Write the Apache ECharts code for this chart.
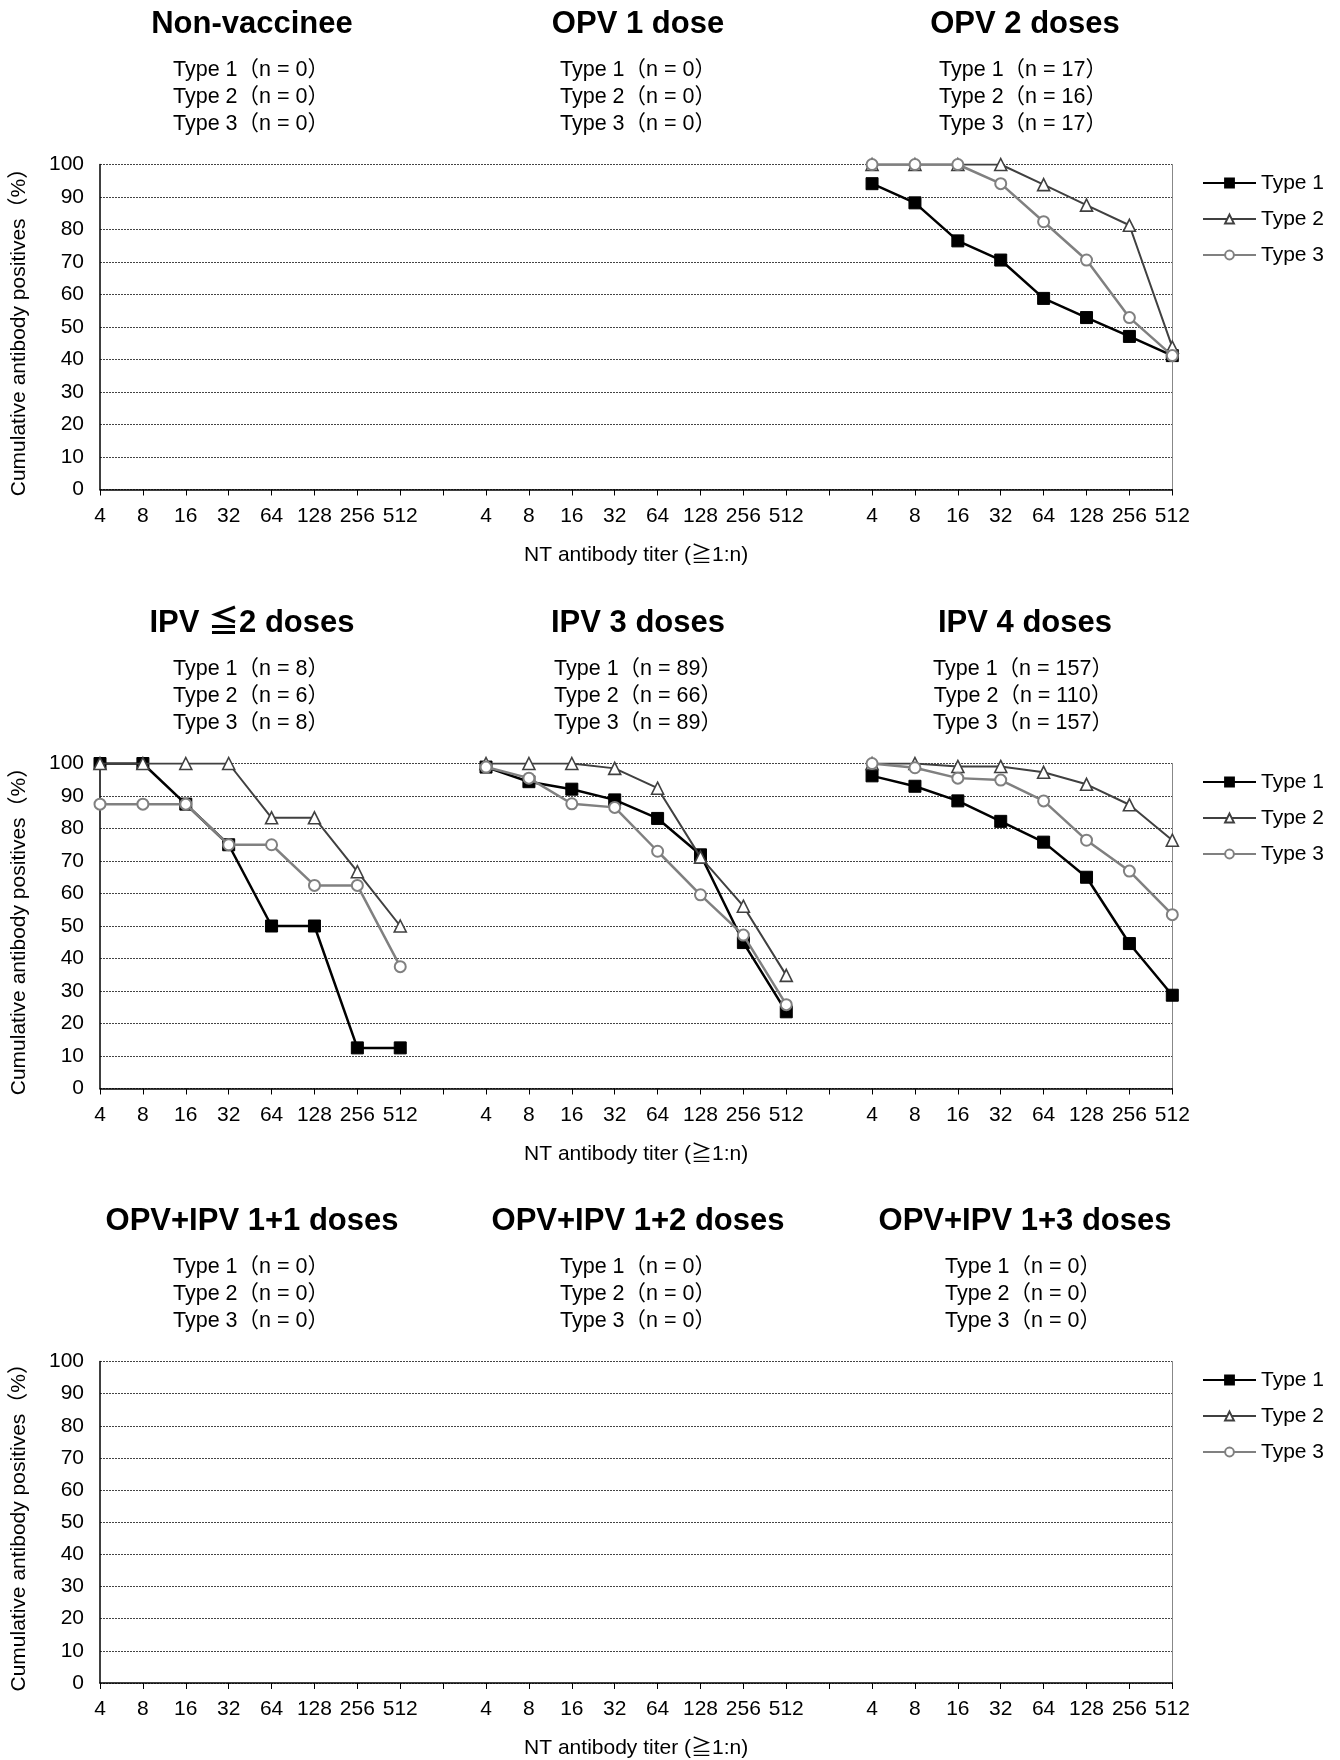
<!DOCTYPE html>
<html>
<head>
<meta charset="utf-8">
<script src="https://cdn.jsdelivr.net/npm/echarts@6/dist/echarts.min.js"></script>
<style>
html,body{margin:0;padding:0;background:#fff;}
#chart{width:1340px;height:1760px;}
</style>
</head>
<body>
<div id="chart"></div>
<script>
// ---------------- DATA ----------------
const titers = ['4', '8', '16', '32', '64', '128', '256', '512'];
const typeNames = ['Type 1', 'Type 2', 'Type 3'];

const row1Titles = ['Non-vaccinee', 'OPV 1 dose', 'OPV 2 doses'];
const row2Titles = ['IPV ≦2 doses', 'IPV 3 doses', 'IPV 4 doses'];
const row3Titles = ['OPV+IPV 1+1 doses', 'OPV+IPV 1+2 doses', 'OPV+IPV 1+3 doses'];

// sample sizes (Type 1, Type 2, Type 3)
const nNonVaccinee = [0, 0, 0];
const nOpv1 = [0, 0, 0];
const nOpv2 = [17, 16, 17];
const nIpvLe2 = [8, 6, 8];
const nIpv3 = [89, 66, 89];
const nIpv4 = [157, 110, 157];
const nCombo11 = [0, 0, 0];
const nCombo12 = [0, 0, 0];
const nCombo13 = [0, 0, 0];

// cumulative antibody positives (%) at titer >= 1:n
const noData = [null, null, null, null, null, null, null, null];

const opv2Type1 = [94.1, 88.2, 76.5, 70.6, 58.8, 52.9, 47.1, 41.2];
const opv2Type2 = [100, 100, 100, 100, 93.8, 87.5, 81.3, 43.8];
const opv2Type3 = [100, 100, 100, 94.1, 82.4, 70.6, 52.9, 41.2];

const ipvLe2Type1 = [100, 100, 87.5, 75, 50, 50, 12.5, 12.5];
const ipvLe2Type2 = [100, 100, 100, 100, 83.3, 83.3, 66.7, 50];
const ipvLe2Type3 = [87.5, 87.5, 87.5, 75, 75, 62.5, 62.5, 37.5];

const ipv3Type1 = [98.9, 94.4, 92.1, 88.8, 83.1, 71.9, 44.9, 23.6];
const ipv3Type2 = [100, 100, 100, 98.5, 92.4, 71.2, 56.1, 34.8];
const ipv3Type3 = [98.9, 95.5, 87.6, 86.5, 73.0, 59.6, 47.2, 25.8];

const ipv4Type1 = [96.2, 93.0, 88.5, 82.2, 75.8, 65.0, 44.6, 28.7];
const ipv4Type2 = [100, 100, 99.1, 99.1, 97.3, 93.6, 87.3, 76.4];
const ipv4Type3 = [100, 98.7, 95.5, 94.9, 88.5, 76.4, 66.9, 53.5];

// ---------------- BUILD ----------------
const rows = [
  { titles: row1Titles, counts: [nNonVaccinee, nOpv1, nOpv2],
    panels: [[noData, noData, noData], [noData, noData, noData], [opv2Type1, opv2Type2, opv2Type3]] },
  { titles: row2Titles, counts: [nIpvLe2, nIpv3, nIpv4],
    panels: [[ipvLe2Type1, ipvLe2Type2, ipvLe2Type3], [ipv3Type1, ipv3Type2, ipv3Type3], [ipv4Type1, ipv4Type2, ipv4Type3]] },
  { titles: row3Titles, counts: [nCombo11, nCombo12, nCombo13],
    panels: [[noData, noData, noData], [noData, noData, noData], [noData, noData, noData]] }
];

// x categories: three panels separated by a blank slot
const categories = [].concat(titers, [''], titers, [''], titers);

function joinPanels(a, b, c) {
  return [].concat(a, [null], b, [null], c);
}

const FONT = "'Liberation Sans', Arial, 'Noto Sans CJK JP', sans-serif";
const rowTop = [164.5, 763.5, 1361.5];
const plotH = 325;
const plotLeft = 100;
const plotW = 1072.3;
const titleX = [252, 638, 1025];
const subX = [251, 638, 1023];

const seriesStyles = [
  { symbol: 'rect', symbolSize: 12, line: { color: '#000000', width: 2.5 }, item: { color: '#000000', borderColor: '#000000', borderWidth: 1 } },
  { symbol: 'triangle', symbolSize: 12, line: { color: '#404040', width: 2 }, item: { color: '#ffffff', borderColor: '#404040', borderWidth: 1.6 } },
  { symbol: 'circle', symbolSize: 11, line: { color: '#808080', width: 2.5 }, item: { color: '#ffffff', borderColor: '#808080', borderWidth: 2 } }
];

const option = {
  animation: false,
  backgroundColor: '#ffffff',
  textStyle: { fontFamily: FONT, color: '#000' },
  title: [],
  legend: [],
  grid: [],
  xAxis: [],
  yAxis: [],
  series: []
};

rows.forEach((row, r) => {
  const top = rowTop[r];
  option.grid.push({ left: plotLeft, width: plotW, top: top, height: plotH, containLabel: false });

  row.titles.forEach((t, p) => {
    option.title.push({
      text: t, left: titleX[p], top: top - 142 - 14, textAlign: 'center', padding: 0,
      textStyle: { fontFamily: FONT, fontSize: 31, fontWeight: 'bold', color: '#000', lineHeight: 32 }
    });
    const c = row.counts[p];
    option.title.push({
      text: typeNames.map((nm, k) => nm + '（n = ' + c[k] + '）').join('\n'),
      left: subX[p], top: top - 95.5 - 12.5, textAlign: 'center', padding: 0,
      textStyle: { fontFamily: FONT, fontSize: 21.5, fontWeight: 'normal', color: '#000', lineHeight: 27 }
    });
  });

  option.legend.push({
    orient: 'vertical', left: 1202, top: top + 8, padding: 0,
    itemWidth: 53, itemHeight: 11, itemGap: 15,
    data: typeNames,
    textStyle: { fontFamily: FONT, fontSize: 21, color: '#000' }
  });

  option.xAxis.push({
    type: 'category', gridIndex: r, data: categories, boundaryGap: false,
    name: 'NT antibody titer (≧1:n)', nameLocation: 'middle', nameGap: 55,
    nameTextStyle: { fontFamily: FONT, fontSize: 21, color: '#000' },
    axisLine: { show: true, lineStyle: { color: '#000', width: 1.5 } },
    axisTick: { show: true, interval: 0, length: 6, lineStyle: { color: '#000', width: 1 } },
    axisLabel: { interval: 0, margin: 16, fontSize: 21, color: '#000', fontFamily: FONT },
    splitLine: { show: false }
  });

  option.yAxis.push({
    type: 'value', gridIndex: r, min: 0, max: 100, interval: 10, position: 'left',
    name: 'Cumulative antibody positives（%）', nameLocation: 'middle', nameGap: 70, nameRotate: 90,
    nameTextStyle: { fontFamily: FONT, fontSize: 21, color: '#000' },
    axisLine: { show: true, lineStyle: { color: '#000', width: 1.5 } },
    axisTick: { show: false },
    axisLabel: { margin: 16, fontSize: 21, color: '#000', fontFamily: FONT },
    splitLine: { show: true, lineStyle: { color: '#444', width: 1, type: [2, 1] } }
  });
  option.yAxis.push({
    type: 'value', gridIndex: r, min: 0, max: 100, interval: 10, position: 'right',
    axisLine: { show: true, lineStyle: { color: '#888', width: 1 } },
    axisTick: { show: false }, axisLabel: { show: false }, splitLine: { show: false }
  });

  typeNames.forEach((nm, k) => {
    const st = seriesStyles[k];
    option.series.push({
      type: 'line', name: nm, xAxisIndex: r, yAxisIndex: r * 2,
      data: joinPanels(row.panels[0][k], row.panels[1][k], row.panels[2][k]),
      connectNulls: false, showAllSymbol: true,
      symbol: st.symbol, symbolSize: st.symbolSize,
      lineStyle: st.line, itemStyle: st.item,
      z: 2 + k
    });
  });
});

const chart = echarts.init(document.getElementById('chart'), null, { renderer: 'canvas' });
chart.setOption(option);
</script>
</body>
</html>
